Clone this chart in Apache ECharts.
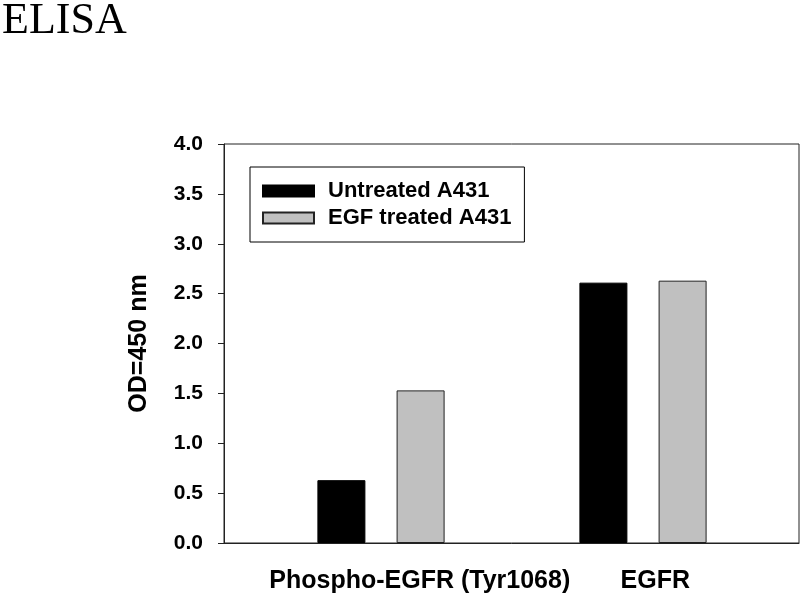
<!DOCTYPE html>
<html>
<head>
<meta charset="utf-8">
<title>ELISA</title>
<script src="https://cdn.jsdelivr.net/npm/echarts@6/dist/echarts.min.js"></script>
<style>
  html, body { margin: 0; padding: 0; background: #fff; }
  #chart { width: 800px; height: 600px; }
</style>
</head>
<body>
<div id="chart"></div>
<script>
// data
var categories = ['Phospho-EGFR (Tyr1068)', 'EGFR'];
var seriesNames = ['Untreated A431', 'EGF treated A431'];
var untreated = [0.63, 2.61];
var egfTreated = [1.53, 2.63];
var yTicks = [0, 0.5, 1, 1.5, 2, 2.5, 3, 3.5, 4];

var font = 'Liberation Sans, Arial, sans-serif';
var chart = echarts.init(document.getElementById('chart'));

var option = {
    animation: false,
    backgroundColor: '#fff',
    title: {
        text: 'ELISA',
        left: -3,
        top: -6,
        textStyle: {
            fontFamily: 'Liberation Serif, Times New Roman, serif',
            fontWeight: 'normal',
            fontSize: 44,
            color: '#000'
        }
    },
    legend: {
        orient: 'vertical',
        left: 250,
        top: 167,
        padding: [13, 13, 13, 12],
        itemGap: 5,
        itemWidth: 51,
        itemHeight: 11,
        icon: 'rect',
        borderColor: '#000',
        borderWidth: 1,
        selectedMode: false,
        data: seriesNames,
        textStyle: {
            fontFamily: font,
            fontWeight: 'bold',
            fontSize: 22,
            lineHeight: 22,
            color: '#000',
            padding: [0, 0, 0, 9]
        }
    },
    grid: [
        // frame with the visible axes
        { left: 224, right: 1, top: 144, bottom: 57, show: true, borderColor: '#222', borderWidth: 1 },
        // bars
        { left: 250, right: 26, top: 144, bottom: 57 }
    ],
    xAxis: [
        {
            type: 'category',
            gridIndex: 0,
            data: categories,
            axisLine: { lineStyle: { color: '#222', width: 1 } },
            axisTick: { show: false },
            axisLabel: {
                interval: 0,
                hideOverlap: false,
                margin: 26,
                color: '#000',
                fontFamily: font,
                fontWeight: 'bold',
                fontSize: 25,
                formatter: function (v, i) {
                    return i === 0 ? '{a|' + v + '}' : '{b|' + v + '}';
                },
                rich: {
                    a: { fontFamily: font, fontWeight: 'bold', fontSize: 25, color: '#000', padding: [0, 0, 0, 104] },
                    b: { fontFamily: font, fontWeight: 'bold', fontSize: 25, color: '#000' }
                }
            }
        },
        {
            type: 'category',
            gridIndex: 1,
            data: categories,
            show: false
        }
    ],
    yAxis: [
        {
            type: 'value',
            gridIndex: 0,
            min: 0,
            max: 4,
            interval: 0.5,
            name: 'OD=450 nm',
            nameLocation: 'middle',
            nameGap: 72,
            nameTextStyle: {
                fontFamily: font,
                fontWeight: 'bold',
                fontSize: 25,
                color: '#000'
            },
            splitLine: { show: false },
            axisLine: { show: true, lineStyle: { color: '#222', width: 1 } },
            axisTick: { show: true, inside: false, length: 6, lineStyle: { color: '#222' } },
            axisLabel: {
                margin: 21,
                color: '#000',
                fontFamily: font,
                fontWeight: 'bold',
                fontSize: 21,
                formatter: function (v) {
                    return yTicks.indexOf(v) >= 0 ? v.toFixed(1) : '';
                }
            }
        },
        {
            type: 'value',
            gridIndex: 1,
            min: 0,
            max: 4,
            interval: 0.5,
            show: false,
            splitLine: { show: false }
        }
    ],
    series: [
        {
            name: seriesNames[0],
            type: 'bar',
            xAxisIndex: 1,
            yAxisIndex: 1,
            barWidth: 48,
            barGap: '65%',
            itemStyle: { color: '#000', borderColor: '#000', borderWidth: 1 },
            data: untreated
        },
        {
            name: seriesNames[1],
            type: 'bar',
            xAxisIndex: 1,
            yAxisIndex: 1,
            barWidth: 48,
            barGap: '65%',
            itemStyle: { color: '#c0c0c0', borderColor: '#222', borderWidth: 1 },
            data: egfTreated
        }
    ]
};

chart.setOption(option);
</script>
</body>
</html>
